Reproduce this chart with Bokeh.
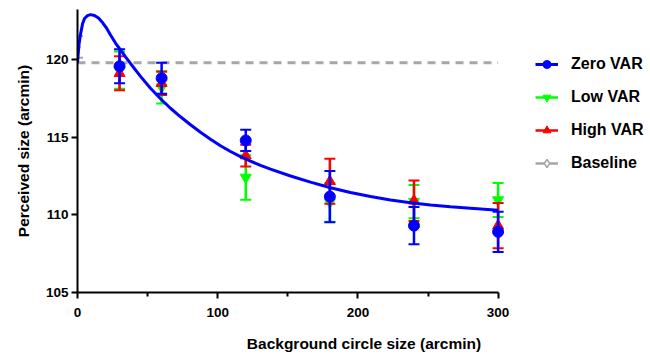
from bokeh.plotting import figure
from bokeh.models import Legend, LegendItem, Range1d, FixedTicker
from bokeh.embed import file_html
from bokeh.resources import INLINE

# ---- data ----
sizes = [30, 60, 120, 180, 240, 300]
zero_mean = [119.55, 118.78, 114.78, 111.17, 109.3, 108.9]
zero_err = [1.1, 1.0, 0.68, 1.65, 1.2, 1.3]
low_mean = [119.3, 118.2, 112.4, 110.8, 110.85, 110.95]
low_err = [1.2, 1.05, 1.43, 1.25, 1.07, 1.1]
high_mean = [119.1, 118.45, 113.8, 112.15, 110.9, 109.3]
high_err = [1.1, 0.75, 0.7, 1.45, 1.3, 1.45]
base_x = [0]
base_mean = [120.8]
base_err = [0.7]
base_level = 119.78
base_line_x = [0, 300]

fit_x = [0, 1.07, 2.14, 3.57, 4.99, 7.13, 9.27, 12.13, 14.98, 17.83, 20.68, 23.54,
         27.1, 30.67, 34.24, 37.8, 44.94, 52.07, 59.2, 66.33, 73.47, 80.6, 87.73,
         94.86, 101.99, 109.13, 116.26, 123.39, 130.53, 137.66, 151.93, 166.19,
         180.46, 194.72, 208.99, 223.25, 237.52, 251.78, 266.05, 280.31, 300]
fit_y = [119.79, 120.95, 121.6, 122.26, 122.62, 122.81, 122.87, 122.81, 122.65,
         122.36, 122.01, 121.56, 121.04, 120.6, 120.15, 119.73, 118.9, 118.13,
         117.46, 116.85, 116.3, 115.79, 115.31, 114.86, 114.44, 114.07, 113.74,
         113.45, 113.17, 112.93, 112.49, 112.1, 111.74, 111.43, 111.17, 110.95,
         110.77, 110.63, 110.51, 110.42, 110.29]

x_ticks = [0, 100, 200, 300]
x_minor = [50, 150, 250]
y_ticks = [105, 110, 115, 120]

BLUE = "#0000ff"
GREEN = "#00ff00"
RED = "#ff0000"
GRAY = "#a6a6a6"
FONT = "Liberation Sans"

p = figure(width=650, height=356, output_backend="svg", toolbar_location=None,
           x_range=Range1d(0, 408.7), y_range=Range1d(105, 123.2),
           min_border_left=77, min_border_top=9, min_border_bottom=64,
           min_border_right=0)
p.outline_line_color = None
p.grid.visible = False
p.background_fill_color = "white"

# axes
for ax in (p.xaxis[0], p.yaxis[0]):
    ax.axis_line_color = "black"
    ax.axis_line_width = 2
    ax.major_tick_line_color = "black"
    ax.major_tick_line_width = 2
    ax.major_tick_in = 0
    ax.major_tick_out = 6
    ax.minor_tick_line_color = "black"
    ax.minor_tick_line_width = 2
    ax.minor_tick_in = 0
    ax.minor_tick_out = 4
    ax.major_label_text_font = FONT
    ax.major_label_text_font_style = "bold"
    ax.major_label_text_font_size = "13.5px"
    ax.major_label_text_color = "black"
    ax.axis_label_text_font = FONT
    ax.axis_label_text_font_style = "bold"
    ax.axis_label_text_font_size = "15.5px"
    ax.axis_label_text_color = "black"

p.xaxis[0].ticker = FixedTicker(ticks=x_ticks, minor_ticks=x_minor)
p.xaxis[0].bounds = (0, 300)
p.yaxis[0].ticker = FixedTicker(ticks=y_ticks)
p.yaxis[0].minor_tick_line_color = None
p.xaxis[0].axis_label = "Background circle size (arcmin)"
p.yaxis[0].axis_label = "Perceived size (arcmin)"
p.xaxis[0].major_label_standoff = 9
p.yaxis[0].major_label_standoff = 3
p.xaxis[0].axis_label_standoff = 15
p.yaxis[0].axis_label_standoff = 11

# baseline dashed line
p.line(base_line_x, [base_level, base_level], line_color=GRAY, line_width=3,
       line_dash="8 6")


def errbars(x, m, e, color):
    lo = [a - b for a, b in zip(m, e)]
    hi = [a + b for a, b in zip(m, e)]
    seg = p.segment(x0=x, y0=lo, x1=x, y1=hi, line_color=color, line_width=2.5)
    p.scatter(x=x + x, y=lo + hi, marker="dash", size=11, line_color=color,
              line_width=2)
    return seg


# baseline point
base_seg = errbars(base_x, base_mean, base_err, GRAY)
base_pts = p.scatter(base_x, base_mean, marker="diamond", size=8,
                     fill_color="white", line_color=GRAY, line_width=1.5)

low_seg = errbars(sizes, low_mean, low_err, GREEN)
low_pts = p.scatter(sizes, low_mean, marker="inverted_triangle", size=11,
                    fill_color=GREEN, line_color=GREEN)
high_seg = errbars(sizes, high_mean, high_err, RED)
high_pts = p.scatter(sizes, high_mean, marker="triangle", size=11,
                     fill_color=RED, line_color=RED)
zero_seg = errbars(sizes, zero_mean, zero_err, BLUE)
zero_pts = p.scatter(sizes, zero_mean, marker="circle", size=11,
                     fill_color=BLUE, line_color=BLUE)

# fitted curve
fit = p.line(fit_x, fit_y, line_color=BLUE, line_width=3)

items = [
    LegendItem(label="Zero VAR", renderers=[fit, zero_pts]),
    LegendItem(label="Low VAR", renderers=[low_seg, low_pts]),
    LegendItem(label="High VAR", renderers=[high_seg, high_pts]),
    LegendItem(label="Baseline", renderers=[base_seg, base_pts]),
]
legend = Legend(items=items, location=(458, 119), border_line_color=None,
                background_fill_alpha=0, padding=0, margin=0,
                glyph_width=23, glyph_height=20, label_height=20, spacing=13,
                label_standoff=13, label_text_font=FONT,
                label_text_font_style="bold", label_text_font_size="16px",
                label_text_color="black")
p.add_layout(legend, "center")

open("out.html", "w").write(file_html(p, INLINE))
